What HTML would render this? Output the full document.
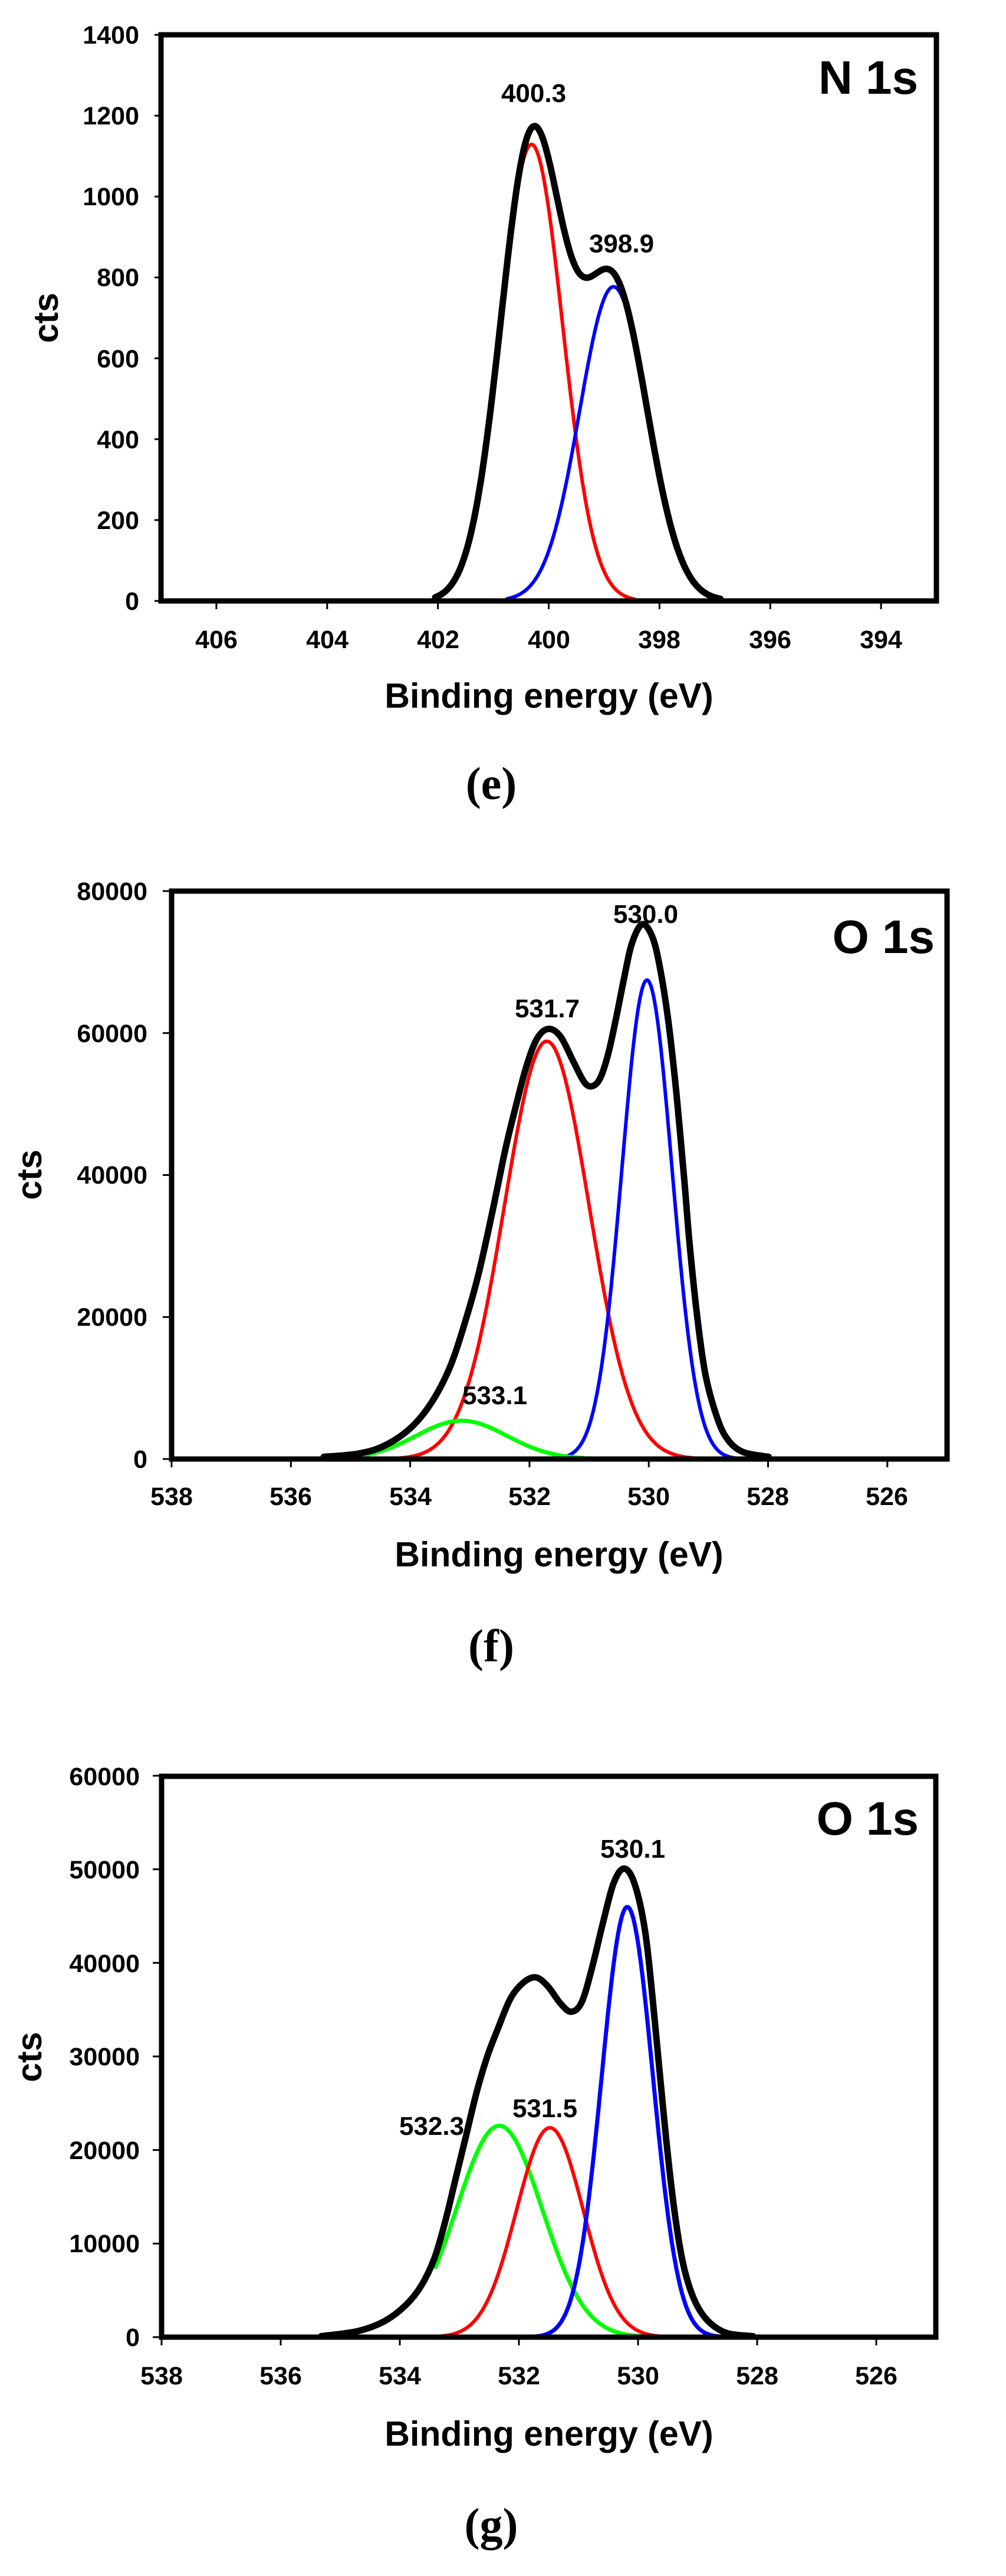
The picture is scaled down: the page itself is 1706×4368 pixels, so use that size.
<!DOCTYPE html>
<html><head><meta charset="utf-8">
<style>
html,body{margin:0;padding:0;background:#fff;}
svg{display:block;}
text{font-family:"Liberation Sans",Arial,sans-serif;font-weight:bold;fill:#000;}
.tl{font-size:43px;}
.ti{font-size:59px;}
.pk{font-size:44px;}
.big{font-size:80px;}
.cap{font-family:"Liberation Serif",serif;font-size:78px;font-weight:bold;}
</style></head>
<body>
<svg id="s" width="1706" height="4368" viewBox="0 0 1706 4368" xmlns="http://www.w3.org/2000/svg">
<rect width="1706" height="4368" fill="#fff"/>
<g id="curves"></g>
<g id="ticks" stroke="#000" stroke-width="3"></g>
<rect x="273" y="59" width="1315" height="960" fill="none" stroke="#000" stroke-width="9"/>
<rect x="291" y="1511" width="1315" height="963" fill="none" stroke="#000" stroke-width="9"/>
<rect x="274" y="3012" width="1313" height="951" fill="none" stroke="#000" stroke-width="9"/>

<g class="tl" text-anchor="end">
<text x="236" y="1034">0</text><text x="236" y="897">200</text><text x="236" y="760">400</text>
<text x="236" y="623">600</text><text x="236" y="485">800</text><text x="236" y="348">1000</text>
<text x="236" y="211">1200</text><text x="236" y="74">1400</text>
</g>
<g class="tl" text-anchor="middle">
<text x="367" y="1099">406</text><text x="555" y="1099">404</text><text x="743" y="1099">402</text>
<text x="931" y="1099">400</text><text x="1118" y="1099">398</text><text x="1306" y="1099">396</text><text x="1494" y="1099">394</text>
</g>
<text class="ti" x="931" y="1200" text-anchor="middle">Binding energy (eV)</text>
<text class="ti" transform="translate(98,539) rotate(-90)" text-anchor="middle">cts</text>
<text class="cap" x="833" y="1355" text-anchor="middle">(e)</text>
<text class="big" x="1557" y="159" text-anchor="end">N 1s</text>
<text class="pk" x="905" y="173" text-anchor="middle">400.3</text>
<text class="pk" x="1054" y="428" text-anchor="middle">398.9</text>

<g class="tl" text-anchor="end">
<text x="250" y="2489">0</text><text x="250" y="2248">20000</text><text x="250" y="2007">40000</text>
<text x="250" y="1767">60000</text><text x="250" y="1526">80000</text>
</g>
<g class="tl" text-anchor="middle">
<text x="291" y="2552">538</text><text x="493" y="2552">536</text><text x="696" y="2552">534</text>
<text x="898" y="2552">532</text><text x="1100" y="2552">530</text><text x="1302" y="2552">528</text><text x="1504" y="2552">526</text>
</g>
<text class="ti" x="948" y="2656" text-anchor="middle">Binding energy (eV)</text>
<text class="ti" transform="translate(70,1992) rotate(-90)" text-anchor="middle">cts</text>
<text class="cap" x="833" y="2817" text-anchor="middle">(f)</text>
<text class="big" x="1585" y="1616" text-anchor="end">O 1s</text>
<text class="pk" x="1095" y="1565" text-anchor="middle">530.0</text>
<text class="pk" x="928" y="1725" text-anchor="middle">531.7</text>
<text class="pk" x="839" y="2381" text-anchor="middle">533.1</text>

<g class="tl" text-anchor="end">
<text x="237" y="3978">0</text><text x="237" y="3819">10000</text><text x="237" y="3661">20000</text>
<text x="237" y="3502">30000</text><text x="237" y="3344">40000</text><text x="237" y="3185">50000</text><text x="237" y="3027">60000</text>
</g>
<g class="tl" text-anchor="middle">
<text x="274" y="4043">538</text><text x="476" y="4043">536</text><text x="678" y="4043">534</text>
<text x="880" y="4043">532</text><text x="1082" y="4043">530</text><text x="1284" y="4043">528</text><text x="1486" y="4043">526</text>
</g>
<text class="ti" x="931" y="4147" text-anchor="middle">Binding energy (eV)</text>
<text class="ti" transform="translate(70,3488) rotate(-90)" text-anchor="middle">cts</text>
<text class="cap" x="833" y="4307" text-anchor="middle">(g)</text>
<text class="big" x="1558" y="3111" text-anchor="end">O 1s</text>
<text class="pk" x="1073" y="3150" text-anchor="middle">530.1</text>
<text class="pk" x="924" y="3590" text-anchor="middle">531.5</text>
<text class="pk" x="732" y="3620" text-anchor="middle">532.3</text>
</svg>
<script>
(function(){
var NS="http://www.w3.org/2000/svg";
var cg=document.getElementById("curves"), tg=document.getElementById("ticks");
function path(d,col,w){var p=document.createElementNS(NS,"path");p.setAttribute("d",d);p.setAttribute("fill","none");p.setAttribute("stroke",col);p.setAttribute("stroke-width",w);p.setAttribute("stroke-linejoin","round");p.setAttribute("stroke-linecap","round");cg.appendChild(p);}
function line(x1,y1,x2,y2){var l=document.createElementNS(NS,"line");l.setAttribute("x1",x1);l.setAttribute("y1",y1);l.setAttribute("x2",x2);l.setAttribute("y2",y2);tg.appendChild(l);}
function gauss(c,a,s){return function(E){var d=(E-c)/s;return a*Math.exp(-0.5*d*d);};}
function fpath(f,e0,e1,X,Y){var d="",n=200;for(var i=0;i<=n;i++){var E=e0+(e1-e0)*i/n;d+=(i?"L":"M")+X(E).toFixed(1)+" "+Y(f(E)).toFixed(1);}return d;}
function crpath(pts){var d="M"+pts[0][0]+" "+pts[0][1];for(var i=0;i<pts.length-1;i++){var p0=pts[i?i-1:0],p1=pts[i],p2=pts[i+1],p3=pts[i+2<pts.length?i+2:i+1];
d+="C"+(p1[0]+(p2[0]-p0[0])/6).toFixed(1)+" "+(p1[1]+(p2[1]-p0[1])/6).toFixed(1)+" "+(p2[0]-(p3[0]-p1[0])/6).toFixed(1)+" "+(p2[1]-(p3[1]-p1[1])/6).toFixed(1)+" "+p2[0].toFixed(1)+" "+p2[1].toFixed(1);}return d;}
var CW=6;
// Panel e
var Xe=function(E){return 273+(407-E)*93.93;},Ye=function(v){return 1019-v*0.6857;};
var re=gauss(400.31,1129,0.56),be=gauss(398.83,777,0.61);
var ke=function(E){return re(E)+be(E);};
path(fpath(re,402.0,398.45,Xe,Ye),"#f00",CW);
path(fpath(be,400.75,396.95,Xe,Ye),"#00f",CW);
path(fpath(ke,402.05,396.9,Xe,Ye),"#000",11);
for(var v=0;v<=1400;v+=200)line(262,Ye(v),273,Ye(v));
for(var E=406;E>=394;E-=2)line(Xe(E),1023,Xe(E),1033);
// Panel f
var Xf=function(E){return 291+(538-E)*101.15;},Yf=function(v){return 2474-v*0.012038;};
path(fpath(gauss(531.71,58850,0.71),535.0,528.79,Xf,Yf),"#f00",CW);
path(fpath(gauss(530.03,67470,0.42),532.25,528.2,Xf,Yf),"#00f",CW);
path(fpath(gauss(533.14,5400,0.76),534.9,531.09,Xf,Yf),"#0f0",CW+1);
var zf=[[335,1478],[400,1470],[450,1450],[500,1405],[540,1340],[575,1250],[605,1130],[630,1010],[655,860],[680,700],[700,590],[720,490],[740,420],[762,395],[785,415],[810,480],[830,530],[845,540],[860,520],[875,460],[890,370],[905,270],[920,180],[940,130],[960,165],[975,250],[990,380],[1005,560],[1020,780],[1030,940],[1045,1130],[1060,1270],[1080,1370],[1100,1430],[1130,1465],[1180,1478]];
path(crpath(zf.map(function(p){return[250+p[0]*0.8927,1480+p[1]*0.670];})),"#000",11);
for(var v=0;v<=80000;v+=20000)line(276,Yf(v),291,Yf(v));
for(var E=538;E>=526;E-=2)line(Xf(E),2478,Xf(E),2488);
// Panel g
var Xg=function(E){return 274+(538-E)*101.0;},Yg=function(v){return 3963-v*0.015867;};
path(fpath(gauss(532.33,22590,0.72),533.4,529.48,Xg,Yg),"#0f0",CW+1);
path(fpath(gauss(531.48,22380,0.56),533.97,529.13,Xg,Yg),"#f00",CW);
path(fpath(gauss(530.18,45980,0.43),532.31,528.4,Xg,Yg),"#00f",CW+1);
var zg=[[330,1468],[400,1455],[450,1430],[490,1390],[520,1340],[545,1270],[565,1180],[585,1070],[605,960],[625,850],[645,760],[665,690],[690,610],[715,570],[738,558],[760,580],[785,625],[805,645],[825,620],[845,530],[865,420],[885,320],[905,282],[925,320],[945,440],[960,620],[975,830],[990,1030],[1005,1190],[1020,1300],[1040,1380],[1065,1430],[1100,1460],[1150,1468]];
path(crpath(zg.map(function(p){return[250+p[0]*0.893,2980+p[1]*0.6685];})),"#000",11);
for(var v=0;v<=60000;v+=10000)line(259,Yg(v),274,Yg(v));
for(var E=538;E>=526;E-=2)line(Xg(E),3967,Xg(E),3977);
})();
</script>
</body></html>
